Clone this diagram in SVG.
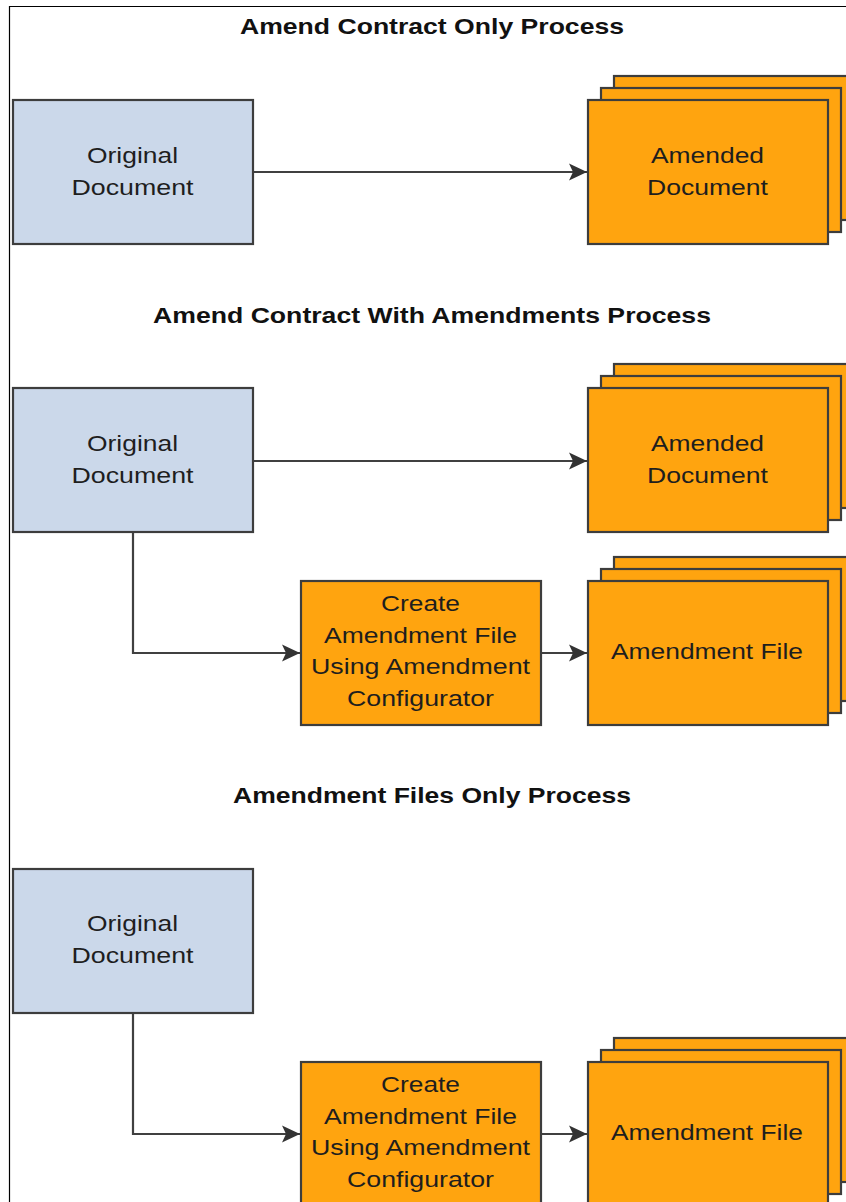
<svg xmlns="http://www.w3.org/2000/svg" width="846" height="1202" viewBox="0 0 846 1202">
  <style>
    .title { font-family: "Liberation Sans", Arial, sans-serif; font-size: 22px; font-weight: bold; fill: #111; text-anchor: middle; }
    .lbl { font-family: "Liberation Sans", Arial, sans-serif; font-size: 22px; fill: #1e1e1e; text-anchor: middle; }
    .blue { fill: #cbd8ea; stroke: #3d3d3d; stroke-width: 2.2; }
    .orange { fill: #ffa40f; stroke: #3d3d3d; stroke-width: 2.2; }
    .conn { fill: none; stroke: #404040; stroke-width: 2.2; }
  </style>
  <defs>
    <marker id="arr" markerUnits="userSpaceOnUse" markerWidth="20" markerHeight="18" viewBox="0 0 20 18" refX="19" refY="9" orient="auto">
      <path d="M1,0.5 L19,9 L1,17.5 L5,9 Z" fill="#333"/>
    </marker>
  </defs>
  <rect width="846" height="1202" fill="#fff"/>
  <path d="M9.5,1202 V6.5 H846" fill="none" stroke="#000" stroke-width="1.2"/>

  <text class="title" x="432" y="34" textLength="384" lengthAdjust="spacingAndGlyphs">Amend Contract Only Process</text>
  <text class="title" x="432" y="323" textLength="558" lengthAdjust="spacingAndGlyphs">Amend Contract With Amendments Process</text>
  <text class="title" x="432" y="803" textLength="398" lengthAdjust="spacingAndGlyphs">Amendment Files Only Process</text>

  <g id="connectors">
    <path class="conn" d="M253,172 H587" marker-end="url(#arr)"/>
    <path class="conn" d="M253,461 H587" marker-end="url(#arr)"/>
    <path class="conn" d="M133,532 V653 H300" marker-end="url(#arr)"/>
    <path class="conn" d="M541,653 H587" marker-end="url(#arr)"/>
    <path class="conn" d="M133,1013 V1134 H300" marker-end="url(#arr)"/>
    <path class="conn" d="M541,1134 H587" marker-end="url(#arr)"/>
  </g>

  <g id="orig1">
    <rect class="blue" x="13" y="100" width="240" height="144"/>
    <text class="lbl" x="132.5" y="163" textLength="91" lengthAdjust="spacingAndGlyphs">Original</text>
    <text class="lbl" x="132.5" y="195" textLength="122" lengthAdjust="spacingAndGlyphs">Document</text>
  </g>
  <g id="amended1">
    <rect class="orange" x="614" y="76" width="240" height="144"/>
    <rect class="orange" x="601" y="88" width="240" height="144"/>
    <rect class="orange" x="588" y="100" width="240" height="144"/>
    <text class="lbl" x="707.5" y="163" textLength="113" lengthAdjust="spacingAndGlyphs">Amended</text>
    <text class="lbl" x="707.5" y="195" textLength="121" lengthAdjust="spacingAndGlyphs">Document</text>
  </g>

  <g id="orig2">
    <rect class="blue" x="13" y="388" width="240" height="144"/>
    <text class="lbl" x="132.5" y="451" textLength="91" lengthAdjust="spacingAndGlyphs">Original</text>
    <text class="lbl" x="132.5" y="483" textLength="122" lengthAdjust="spacingAndGlyphs">Document</text>
  </g>
  <g id="amended2">
    <rect class="orange" x="614" y="364" width="240" height="144"/>
    <rect class="orange" x="601" y="376" width="240" height="144"/>
    <rect class="orange" x="588" y="388" width="240" height="144"/>
    <text class="lbl" x="707.5" y="451" textLength="113" lengthAdjust="spacingAndGlyphs">Amended</text>
    <text class="lbl" x="707.5" y="483" textLength="121" lengthAdjust="spacingAndGlyphs">Document</text>
  </g>
  <g id="create2">
    <rect class="orange" x="301" y="581" width="240" height="144"/>
    <text class="lbl" x="420.5" y="611" textLength="79" lengthAdjust="spacingAndGlyphs">Create</text>
    <text class="lbl" x="420.5" y="643" textLength="193" lengthAdjust="spacingAndGlyphs">Amendment File</text>
    <text class="lbl" x="420.5" y="674" textLength="219" lengthAdjust="spacingAndGlyphs">Using Amendment</text>
    <text class="lbl" x="420.5" y="706" textLength="147" lengthAdjust="spacingAndGlyphs">Configurator</text>
  </g>
  <g id="amendfile2">
    <rect class="orange" x="614" y="557" width="240" height="144"/>
    <rect class="orange" x="601" y="569" width="240" height="144"/>
    <rect class="orange" x="588" y="581" width="240" height="144"/>
    <text class="lbl" x="707" y="659" textLength="192" lengthAdjust="spacingAndGlyphs">Amendment File</text>
  </g>

  <g id="orig3">
    <rect class="blue" x="13" y="869" width="240" height="144"/>
    <text class="lbl" x="132.5" y="931" textLength="91" lengthAdjust="spacingAndGlyphs">Original</text>
    <text class="lbl" x="132.5" y="963" textLength="122" lengthAdjust="spacingAndGlyphs">Document</text>
  </g>
  <g id="create3">
    <rect class="orange" x="301" y="1062" width="240" height="144"/>
    <text class="lbl" x="420.5" y="1092" textLength="79" lengthAdjust="spacingAndGlyphs">Create</text>
    <text class="lbl" x="420.5" y="1124" textLength="193" lengthAdjust="spacingAndGlyphs">Amendment File</text>
    <text class="lbl" x="420.5" y="1155" textLength="219" lengthAdjust="spacingAndGlyphs">Using Amendment</text>
    <text class="lbl" x="420.5" y="1187" textLength="147" lengthAdjust="spacingAndGlyphs">Configurator</text>
  </g>
  <g id="amendfile3">
    <rect class="orange" x="614" y="1038" width="240" height="144"/>
    <rect class="orange" x="601" y="1050" width="240" height="144"/>
    <rect class="orange" x="588" y="1062" width="240" height="144"/>
    <text class="lbl" x="707" y="1140" textLength="192" lengthAdjust="spacingAndGlyphs">Amendment File</text>
  </g>
</svg>
